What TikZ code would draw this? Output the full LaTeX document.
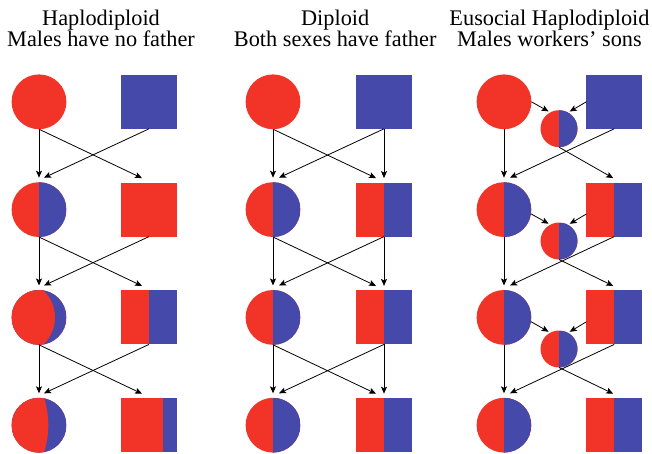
\documentclass[tikz,border=0pt]{standalone}
\usepackage{fontspec}
\setmainfont{Liberation Serif}
\usetikzlibrary{arrows.meta,calc}
\definecolor{cred}{RGB}{242,51,39}
\definecolor{cblue}{RGB}{68,73,170}
\begin{document}
\begin{tikzpicture}[x=1pt,y=-1pt,
  title/.style={anchor=base, inner sep=0pt, font=\fontsize{22.3pt}{20.5pt}\selectfont},
  fem/.style={circle, inner sep=0pt, outer sep=0pt, minimum size=54.8pt, fill=cred},
  worker/.style={fem, minimum size=37pt},
  malebox/.style={rectangle, inner sep=0pt, outer sep=0pt, minimum width=55.7pt, minimum height=54pt, fill=cblue},
  splithalf/.style={path picture={\fill[cblue] (path picture bounding box.north) rectangle (path picture bounding box.south east);}},
  splitquarter/.style={path picture={\fill[cblue] ($(path picture bounding box.north east)+(-13.9pt,0pt)$) rectangle (path picture bounding box.south east);}},
  lens/.style 2 args={path picture={
      \fill[cblue] (path picture bounding box.south west) rectangle (path picture bounding box.north east);
      \fill[cred] ($(path picture bounding box.center)+(#1,0pt)$) circle[radius=#2];}},
  link/.style={draw=black, line width=0.8pt, -{Stealth[length=7pt,width=6pt,inset=1.5pt]}},
]
\useasboundingbox (0,0) rectangle (652,453);

% titles
\node[title] (t1a) at (101,25.5) {Haplodiploid};
\node[title] (t1b) at (101,46) {Males have no father};
\node[title] (t2a) at (335.2,25.5) {Diploid};
\node[title] (t2b) at (335.2,46) {Both sexes have father};
\node[title] (t3a) at (549.5,25.5) {Eusocial Haplodiploid};
\node[title] (t3b) at (549.5,46) {Males workers’ sons};

% haplodiploid lineage
\node[fem] (a1) at (39,101.8) {};
\node[malebox] (b1) at (149,101.8) {};
\node[fem, splithalf] (a2) at (39,209.6) {};
\node[malebox, fill=cred] (b2) at (149,209.6) {};
\node[fem, lens={-21.4pt}{37.4pt}] (a3) at (39,317.4) {};
\node[malebox, fill=cred, splithalf] (b3) at (149,317.4) {};
\node[fem, lens={-80.5pt}{89.8pt}] (a4) at (39,425.2) {};
\node[malebox, fill=cred, splitquarter] (b4) at (149,425.2) {};

% diploid lineage
\node[fem] (c1) at (273,101.8) {};
\node[malebox] (d1) at (384,101.8) {};
\foreach \r/\y in {2/209.6,3/317.4,4/425.2} {
  \node[fem, splithalf] (c\r) at (273,\y) {};
  \node[malebox, fill=cred, splithalf] (d\r) at (384,\y) {};
}

% eusocial haplodiploid lineage
\node[fem] (e1) at (504,101.8) {};
\node[malebox] (f1) at (614.2,101.8) {};
\foreach \r/\y in {2/209.6,3/317.4,4/425.2} {
  \node[fem, splithalf] (e\r) at (504,\y) {};
  \node[malebox, fill=cred, splithalf] (f\r) at (614.2,\y) {};
}
\node[worker, splithalf] (w1) at (559,128.7) {};
\node[worker, splithalf] (w2) at (559,241) {};
\node[worker, splithalf] (w3) at (559,349) {};

% descent arrows
\foreach \i/\j in {1/2,2/3,3/4} {
  \draw[link, shorten >=4.5pt] (a\i.south) -- (a\j.north);
  \draw[link] (a\i.south) -- ([xshift=-7pt,yshift=4.5pt]b\j.north);
  \draw[link] (b\i.south) -- ([xshift=5pt,yshift=4.5pt]a\j.north);

  \draw[link, shorten >=4.5pt] (c\i.south) -- (c\j.north);
  \draw[link, shorten >=4.5pt] (d\i.south) -- (d\j.north);
  \draw[link] (c\i.south) -- ([xshift=-8pt,yshift=4.5pt]d\j.north);
  \draw[link] (d\i.south) -- ([xshift=6pt,yshift=4.5pt]c\j.north);

  \draw[link, shorten >=4.5pt] (e\i.south) -- (e\j.north);
  \draw[link] (f\i.south) -- ([xshift=6pt,yshift=4.5pt]e\j.north);
  \draw[link] (w\i.south) -- ([xshift=-1pt,yshift=4.5pt]f\j.north);
}

% workers' parents
\draw[link, shorten >=2pt] (e1.east) -- (w1.118);
\draw[link, shorten >=2pt] (f1.west) -- (w1.61);
\draw[link, shorten >=2pt] (e2.-9) -- (w2.118);
\draw[link, shorten >=2pt] ([yshift=-4.4pt]f2.west) -- (w2.61);
\draw[link, shorten >=2pt] (e3.-9) -- (w3.118);
\draw[link, shorten >=2pt] ([yshift=-4.4pt]f3.west) -- (w3.61);
\end{tikzpicture}
\end{document}
